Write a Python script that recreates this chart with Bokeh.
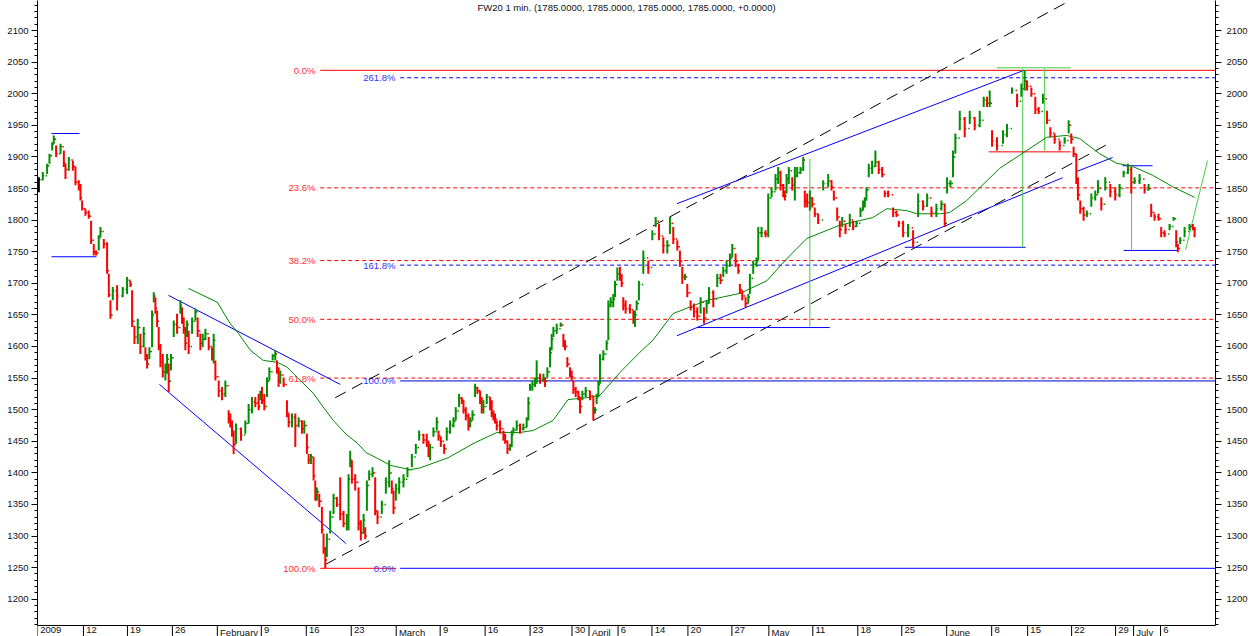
from bokeh.plotting import figure
from bokeh.models import (ColumnDataSource, Range1d, LinearAxis, SingleIntervalTicker, Label)
from bokeh.embed import file_html
from bokeh.resources import INLINE
from bokeh.core.properties import value

FONT = "Liberation Sans"

# ---------------- data (x in trading-day units from chart start) ----------------
bar_x = [
    0.15, 0.59, 1.07, 1.33, 1.63, 1.81, 2.07, 2.56, 2.93, 3.11,
    3.48, 3.93, 4.22, 4.59, 4.78, 4.96, 5.33, 5.70, 5.96, 6.26,
    6.52, 6.81, 7.00, 7.37, 7.74, 7.93, 8.11, 8.37, 8.85, 9.48,
    9.96, 10.33, 10.52, 10.78, 11.15, 11.44, 11.81, 12.00, 12.19, 12.44,
    12.74, 12.93, 13.11, 13.30, 13.48, 13.67, 13.93, 14.22, 14.41, 14.59,
    14.85, 15.15, 15.52, 15.89, 16.07, 16.26, 16.44, 16.63, 16.81, 17.19,
    17.56, 17.81, 18.11, 18.37, 18.67, 19.04, 19.41, 19.59, 19.78, 20.15,
    20.52, 20.89, 21.26, 21.44, 21.63, 21.81, 22.07, 22.63, 23.11, 23.48,
    23.85, 24.22, 24.59, 24.78, 24.96, 25.22, 25.52, 25.78, 26.15, 26.44,
    26.63, 26.81, 27.00, 27.37, 27.74, 27.93, 28.30, 28.67, 29.04, 29.41,
    29.67, 29.96, 30.15, 30.41, 30.70, 30.89, 31.07, 31.33, 31.63, 31.81,
    32.00, 32.18, 32.55, 32.92, 33.29, 33.66, 34.03, 34.40, 34.59, 34.77,
    34.96, 35.33, 35.70, 35.96, 36.26, 36.44, 36.63, 36.88, 37.26, 37.55,
    37.81, 38.29, 38.74, 39.11, 39.40, 39.59, 39.85, 40.22, 40.70, 41.14,
    41.63, 42.07, 42.44, 42.92, 43.29, 43.48, 43.66, 44.03, 44.40, 44.59,
    44.85, 45.22, 45.51, 45.88, 46.26, 46.51, 46.88, 47.18, 47.37, 47.63,
    47.92, 48.11, 48.37, 48.66, 48.92, 49.22, 49.40, 49.59, 49.96, 50.33,
    50.51, 50.70, 50.88, 51.07, 51.44, 51.81, 52.00, 52.26, 52.55, 52.74,
    52.92, 53.29, 53.66, 54.03, 54.40, 54.59, 54.77, 55.03, 55.33, 55.51,
    55.88, 56.26, 56.44, 56.70, 57.00, 57.18, 57.37, 57.74, 58.18, 58.48,
    58.66, 58.92, 59.22, 59.40, 59.59, 59.85, 60.14, 60.33, 60.59, 60.96,
    61.44, 61.81, 62.00, 62.18, 62.37, 62.55, 62.92, 63.29, 63.48, 63.74,
    64.03, 64.22, 64.48, 64.77, 64.96, 65.14, 65.40, 65.88, 66.26, 66.44,
    66.63, 66.88, 67.37, 67.92, 68.37, 68.74, 69.11, 69.59, 70.04, 70.33,
    70.70, 71.15, 71.44, 71.70, 72.00, 72.26, 72.63, 73.00, 73.37, 73.74,
    74.11, 74.41, 74.67, 75.15, 75.59, 75.96, 76.26, 76.63, 77.00, 77.26,
    77.63, 77.93, 78.11, 78.37, 78.74, 79.04, 79.22, 79.59, 79.96, 80.15,
    80.52, 80.96, 81.26, 81.63, 82.07, 82.37, 82.63, 82.93, 83.11, 83.30,
    83.55, 83.93, 84.22, 84.48, 84.85, 85.15, 85.33, 85.59, 85.89, 86.15,
    86.44, 86.81, 87.37, 87.93, 88.30, 88.56, 88.93, 89.22, 89.48, 89.85,
    90.33, 90.70, 91.07, 91.52, 91.81, 92.00, 92.18, 92.44, 92.81, 93.18,
    93.55, 93.93, 94.22, 94.59, 95.15, 95.52, 95.78, 96.26, 96.81, 97.37,
    97.93, 98.48, 98.93, 99.41, 99.96, 100.52, 100.89, 101.15, 101.52, 101.81,
    102.07, 102.56, 103.11, 103.67, 104.22, 104.78, 105.22, 105.59, 105.89, 106.15,
    106.70, 107.37, 107.81, 108.37, 108.93, 109.41, 109.78, 110.04, 110.52, 110.96,
    111.33, 111.81, 112.26, 112.63, 113.11, 113.67, 114.22, 114.67, 114.96, 115.22,
    115.52, 115.70, 115.96, 116.33, 116.70, 117.19, 117.63, 117.93, 118.30, 118.74,
    119.30, 119.85, 120.33, 120.78, 121.26, 121.63, 122.00, 122.56, 123.11, 123.56,
    123.85, 124.22, 124.67, 124.96, 125.33, 125.89, 126.33, 126.63, 126.81, 127.07,
    127.56, 128.11, 128.48, 128.67,
]
bar_high = [
    1868, 1876, 1889, 1905, 1923, 1934, 1918, 1921, 1910, 1889,
    1900, 1894, 1884, 1863, 1857, 1831, 1818, 1815, 1799, 1762,
    1752, 1776, 1789, 1770, 1765, 1715, 1673, 1694, 1697, 1694,
    1710, 1704, 1689, 1633, 1644, 1620, 1631, 1599, 1588, 1599,
    1657, 1686, 1678, 1657, 1631, 1604, 1588, 1573, 1588, 1573,
    1588, 1641, 1652, 1673, 1662, 1646, 1631, 1641, 1625, 1646,
    1660, 1646, 1620, 1620, 1628, 1615, 1599, 1620, 1578, 1546,
    1536, 1546, 1499, 1494, 1483, 1467, 1478, 1472, 1483, 1509,
    1520, 1520, 1525, 1530, 1536, 1525, 1551, 1567, 1588, 1594,
    1578, 1567, 1562, 1551, 1515, 1494, 1494, 1494, 1488, 1483,
    1483, 1462, 1430, 1430, 1425, 1388, 1377, 1367, 1346, 1304,
    1283, 1304, 1340, 1367, 1362, 1393, 1340, 1335, 1398, 1435,
    1420, 1398, 1377, 1325, 1335, 1314, 1388, 1404, 1409, 1393,
    1340, 1356, 1393, 1420, 1388, 1372, 1383, 1393, 1398, 1409,
    1430, 1446, 1467, 1462, 1462, 1451, 1446, 1472, 1488, 1467,
    1457, 1446, 1472, 1483, 1488, 1504, 1525, 1520, 1515, 1504,
    1494, 1488, 1499, 1541, 1536, 1530, 1520, 1515, 1525, 1520,
    1515, 1499, 1494, 1483, 1483, 1467, 1462, 1451, 1446, 1467,
    1472, 1483, 1478, 1478, 1488, 1520, 1541, 1546, 1551, 1578,
    1557, 1557, 1551, 1567, 1599, 1620, 1631, 1636, 1638, 1620,
    1610, 1583, 1567, 1562, 1546, 1536, 1530, 1520, 1530, 1536,
    1530, 1520, 1504, 1525, 1546, 1588, 1594, 1610, 1673, 1678,
    1683, 1704, 1725, 1726, 1715, 1678, 1673, 1667, 1657, 1657,
    1673, 1704, 1752, 1736, 1784, 1805, 1794, 1773, 1768, 1805,
    1789, 1768, 1752, 1726, 1715, 1699, 1673, 1668, 1662, 1678,
    1662, 1673, 1694, 1689, 1715, 1715, 1726, 1736, 1747, 1762,
    1747, 1731, 1699, 1689, 1678, 1683, 1715, 1736, 1741, 1789,
    1789, 1784, 1842, 1852, 1873, 1884, 1878, 1857, 1847, 1873,
    1884, 1868, 1884, 1884, 1884, 1900, 1847, 1842, 1847, 1836,
    1820, 1810, 1863, 1873, 1863, 1847, 1820, 1799, 1805, 1794,
    1810, 1799, 1799, 1820, 1831, 1836, 1852, 1889, 1894, 1910,
    1894, 1884, 1847, 1847, 1820, 1815, 1799, 1799, 1794, 1784,
    1842, 1831, 1842, 1821, 1826, 1831, 1826, 1868, 1863, 1910,
    1937, 1973, 1963, 1973, 1963, 1973, 1995, 1995, 2005, 1942,
    1931, 1942, 1952, 2010, 2000, 2016, 2037, 2021, 2010, 1995,
    1979, 2000, 1973, 1947, 1937, 1926, 1931, 1958, 1937, 1916,
    1905, 1868, 1831, 1821, 1815, 1842, 1847, 1863, 1836, 1868,
    1857, 1852, 1857, 1878, 1889, 1884, 1868, 1873, 1857, 1857,
    1826, 1810, 1810, 1789, 1784, 1794, 1805, 1784, 1762, 1773,
    1789, 1794, 1794, 1789,
]
bar_low = [
    1844, 1863, 1873, 1889, 1910, 1921, 1900, 1905, 1884, 1865,
    1878, 1878, 1855, 1847, 1831, 1815, 1807, 1802, 1762, 1744,
    1744, 1752, 1773, 1755, 1715, 1678, 1644, 1673, 1657, 1678,
    1683, 1694, 1631, 1604, 1604, 1588, 1599, 1578, 1565, 1580,
    1599, 1670, 1652, 1631, 1594, 1567, 1551, 1546, 1557, 1528,
    1562, 1615, 1620, 1652, 1636, 1620, 1594, 1615, 1588, 1620,
    1641, 1615, 1594, 1599, 1610, 1594, 1578, 1573, 1546, 1520,
    1515, 1520, 1478, 1472, 1457, 1430, 1446, 1451, 1462, 1478,
    1494, 1504, 1499, 1515, 1509, 1499, 1520, 1546, 1578, 1578,
    1557, 1536, 1541, 1536, 1488, 1472, 1472, 1441, 1472, 1462,
    1462, 1430, 1414, 1414, 1388, 1356, 1356, 1346, 1304, 1272,
    1249, 1267, 1304, 1335, 1346, 1325, 1314, 1309, 1309, 1409,
    1383, 1372, 1309, 1293, 1304, 1295, 1340, 1388, 1393, 1333,
    1319, 1335, 1367, 1377, 1367, 1335, 1356, 1367, 1377, 1393,
    1409, 1430, 1451, 1446, 1441, 1425, 1420, 1457, 1467, 1451,
    1441, 1430, 1451, 1462, 1472, 1483, 1504, 1509, 1494, 1483,
    1467, 1472, 1483, 1520, 1525, 1509, 1494, 1494, 1509, 1499,
    1488, 1483, 1478, 1467, 1462, 1451, 1446, 1430, 1435, 1441,
    1462, 1467, 1462, 1467, 1472, 1483, 1530, 1530, 1536, 1541,
    1541, 1544, 1536, 1551, 1567, 1594, 1615, 1620, 1631, 1599,
    1594, 1567, 1551, 1546, 1525, 1520, 1515, 1494, 1515, 1520,
    1515, 1483, 1494, 1509, 1520, 1541, 1578, 1594, 1610, 1662,
    1662, 1678, 1704, 1704, 1694, 1657, 1652, 1652, 1636, 1631,
    1657, 1673, 1715, 1715, 1768, 1789, 1768, 1747, 1747, 1778,
    1762, 1752, 1726, 1699, 1705, 1678, 1657, 1646, 1641, 1652,
    1636, 1652, 1668, 1662, 1694, 1699, 1710, 1715, 1726, 1741,
    1726, 1715, 1683, 1673, 1662, 1668, 1683, 1715, 1726, 1736,
    1773, 1773, 1773, 1836, 1847, 1857, 1847, 1836, 1831, 1842,
    1857, 1847, 1831, 1868, 1873, 1878, 1820, 1820, 1815, 1820,
    1805, 1794, 1847, 1852, 1847, 1831, 1799, 1773, 1789, 1778,
    1789, 1784, 1789, 1805, 1815, 1820, 1831, 1868, 1873, 1884,
    1873, 1868, 1836, 1836, 1805, 1805, 1789, 1773, 1773, 1757,
    1805, 1815, 1821, 1805, 1805, 1815, 1789, 1842, 1852, 1868,
    1905, 1942, 1931, 1952, 1942, 1947, 1979, 1979, 1979, 1916,
    1910, 1921, 1931, 2000, 1979, 1995, 2005, 2005, 1995, 1968,
    1968, 1984, 1952, 1931, 1921, 1910, 1921, 1937, 1921, 1900,
    1857, 1831, 1810, 1799, 1805, 1821, 1831, 1842, 1815, 1847,
    1836, 1831, 1836, 1868, 1873, 1842, 1857, 1857, 1842, 1847,
    1805, 1799, 1799, 1773, 1773, 1784, 1799, 1757, 1749, 1762,
    1773, 1784, 1784, 1773,
]
bar_close = [
    1864, 1870, 1886, 1902, 1920, 1928, 1905, 1916, 1890, 1880,
    1895, 1885, 1860, 1855, 1835, 1818, 1812, 1806, 1768, 1750,
    1748, 1772, 1782, 1762, 1720, 1682, 1650, 1688, 1680, 1690,
    1705, 1698, 1640, 1615, 1630, 1600, 1620, 1585, 1572, 1592,
    1650, 1680, 1660, 1640, 1600, 1575, 1560, 1565, 1580, 1545,
    1582, 1635, 1630, 1665, 1645, 1628, 1605, 1635, 1600, 1640,
    1655, 1625, 1605, 1612, 1620, 1600, 1585, 1610, 1552, 1530,
    1525, 1538, 1485, 1480, 1465, 1445, 1470, 1460, 1478, 1500,
    1512, 1510, 1505, 1525, 1515, 1505, 1545, 1560, 1585, 1588,
    1565, 1545, 1555, 1540, 1495, 1480, 1488, 1475, 1482, 1470,
    1475, 1440, 1420, 1425, 1395, 1365, 1370, 1355, 1310, 1280,
    1262, 1295, 1330, 1360, 1350, 1335, 1320, 1330, 1390, 1420,
    1390, 1385, 1320, 1305, 1325, 1300, 1380, 1398, 1400, 1340,
    1330, 1350, 1385, 1400, 1375, 1345, 1375, 1385, 1390, 1405,
    1425, 1440, 1460, 1452, 1448, 1435, 1440, 1465, 1480, 1458,
    1450, 1438, 1465, 1475, 1482, 1498, 1518, 1515, 1500, 1490,
    1475, 1482, 1492, 1535, 1530, 1515, 1500, 1505, 1520, 1510,
    1495, 1490, 1485, 1475, 1470, 1458, 1450, 1438, 1442, 1460,
    1468, 1475, 1470, 1472, 1485, 1510, 1535, 1540, 1545, 1550,
    1548, 1550, 1545, 1560, 1590, 1612, 1625, 1628, 1634, 1605,
    1600, 1572, 1558, 1552, 1532, 1528, 1520, 1505, 1525, 1530,
    1522, 1495, 1500, 1520, 1540, 1580, 1588, 1605, 1665, 1670,
    1675, 1698, 1715, 1710, 1700, 1665, 1660, 1658, 1645, 1650,
    1668, 1698, 1740, 1725, 1778, 1798, 1775, 1760, 1760, 1795,
    1770, 1758, 1735, 1710, 1710, 1685, 1662, 1655, 1648, 1670,
    1645, 1668, 1685, 1675, 1708, 1705, 1720, 1728, 1740, 1755,
    1735, 1720, 1690, 1680, 1668, 1678, 1708, 1730, 1735, 1780,
    1780, 1778, 1835, 1845, 1865, 1875, 1855, 1842, 1838, 1865,
    1878, 1855, 1870, 1875, 1880, 1895, 1830, 1828, 1835, 1825,
    1810, 1800, 1858, 1862, 1852, 1835, 1805, 1785, 1798, 1785,
    1800, 1790, 1795, 1815, 1825, 1832, 1848, 1882, 1885, 1892,
    1880, 1872, 1842, 1840, 1812, 1808, 1795, 1780, 1788, 1765,
    1830, 1822, 1835, 1812, 1818, 1825, 1795, 1858, 1858, 1900,
    1930, 1960, 1945, 1962, 1950, 1958, 1990, 1985, 1985, 1925,
    1918, 1935, 1945, 2005, 1988, 2008, 2020, 2012, 2000, 1975,
    1972, 1992, 1958, 1938, 1928, 1918, 1926, 1950, 1928, 1905,
    1865, 1840, 1818, 1808, 1810, 1835, 1840, 1850, 1825, 1860,
    1845, 1840, 1850, 1875, 1880, 1860, 1862, 1865, 1848, 1850,
    1812, 1805, 1802, 1780, 1778, 1790, 1802, 1765, 1755, 1768,
    1782, 1790, 1788, 1785,
]
first_open = 1850

# long moving average
ma_x = [16.78, 20.0, 21.44, 22.33, 23.67, 25.11, 26.67, 27.78, 28.89, 30.67,
        31.78, 32.89, 34.33, 35.56, 36.56, 37.67, 39.22, 41.44, 42.56, 45.67,
        48.67, 51.11, 53.67, 55.11, 57.33, 59.0, 61.11, 62.56, 64.78, 67.0,
        68.44, 70.67, 74.44, 78.11, 81.11, 83.33, 85.56, 89.22, 92.89, 94.44,
        96.67, 97.78, 100.33, 101.44, 103.33, 107.0, 110.0, 112.22, 114.44, 115.89,
        118.11, 120.0, 121.78, 124.0, 126.22, 128.67]
ma_v = [1692, 1670, 1636, 1621, 1594, 1578, 1575, 1567, 1551, 1526,
        1504, 1483, 1461, 1447, 1432, 1424, 1412, 1405, 1408, 1424,
        1448, 1464, 1464, 1467, 1483, 1516, 1519, 1523, 1559, 1591,
        1610, 1652, 1673, 1684, 1704, 1739, 1771, 1792, 1804, 1818,
        1815, 1810, 1810, 1812, 1831, 1882, 1910, 1931, 1934, 1929,
        1905, 1890, 1885, 1871, 1853, 1836]

# x-axis ticks (trading-day positions) and labels
tick_pos = [0.0, 5.11, 10.0, 15.0, 20.0, 24.89, 29.89, 34.89, 39.89, 44.78,
            49.78, 54.78, 59.44, 61.33, 64.56, 68.33, 72.33, 77.22, 81.33, 86.22,
            91.22, 96.11, 101.11, 106.11, 110.11, 115.0, 119.89, 121.89, 124.89]
tick_labels = ["2009", "12", "19", "26", "February", "9", "16", "23", "March", "9",
               "16", "23", "30", "April", "6", "14", "20", "27", "May", "11",
               "18", "25", "June", "8", "15", "22", "29", "July", "6"]

# Fibonacci retracement (red) and extension (blue)
fib_red_high = 2037
fib_red_low = 1249
fib_red_pct = [0.0, 23.6, 38.2, 50.0, 61.8, 100.0]
fib_blue_base = 1249
fib_blue_ref = 1545.5
fib_blue_pct = [0.0, 100.0, 161.8, 261.8]

# drawn trend lines: x0, y0, x1, y1
blue_x0 = [1.56, 1.56, 14.56, 13.56, 71.11, 71.11, 115.56, 73.33, 96.44, 120.78, 120.67]
blue_y0 = [1937, 1742, 1681, 1540, 1826, 1617, 1877, 1630, 1757, 1752, 1886]
blue_x1 = [4.67, 6.56, 33.67, 34.33, 109.7, 114.0, 119.56, 88.11, 109.89, 126.78, 124.0]
blue_y1 = [1937, 1742, 1540, 1288, 2037, 1867, 1899, 1630, 1757, 1752, 1886]

chan_x0 = [33.11, 32.0]
chan_y0 = [1519, 1255]
chan_x1 = [114.84, 119.0]
chan_y1 = [2147.5, 1920]

green_x0 = [85.89, 109.56, 112.0, 121.67, 106.67, 127.67]
green_y0 = [1897, 2040, 2040, 1883, 2041, 1753]
green_x1 = [85.89, 109.56, 112.0, 121.67, 114.89, 130.11]
green_y1 = [1632, 1757, 1910, 1752, 2041, 1894]

red_x0 = [105.78]
red_y0 = [1908]
red_x1 = [114.89]
red_y1 = [1908]

title_text = "FW20 1 min. (1785.0000, 1785.0000, 1785.0000, 1785.0000, +0.0000)"

# ---------------- figure geometry ----------------
FIG_W, FIG_H = 1250, 636
X_MIN, X_MAX = 0, 131
Y_MAX = 2147.5          # value at the top of the frame
AXIS_V = 1158.5         # value where the time axis sits
AXIS_PX = 625           # axis line, px below the top of the frame
PPV = AXIS_PX / (Y_MAX - AXIS_V)          # px per value unit
Y_MIN = Y_MAX - FIG_H / PPV

p = figure(width=FIG_W, height=FIG_H, output_backend="svg", toolbar_location=None,
           x_range=Range1d(X_MIN, X_MAX), y_range=Range1d(Y_MIN, Y_MAX),
           x_axis_type=None, y_axis_type=None,
           min_border_left=37, min_border_right=34, min_border_top=0, min_border_bottom=0)
p.outline_line_color = None
p.background_fill_color = "white"
p.border_fill_color = "white"
p.grid.visible = False


def style_y_axis(ax):
    ax.bounds = (AXIS_V, Y_MAX)
    ax.axis_line_color = "black"
    ax.major_tick_line_color = "black"
    ax.minor_tick_line_color = "black"
    ax.major_tick_out = 6
    ax.major_tick_in = 0
    ax.minor_tick_out = 3
    ax.minor_tick_in = 0
    ax.major_label_text_font = FONT
    ax.major_label_text_font_size = "9.5px"
    ax.major_label_text_color = "#111111"
    ax.major_label_standoff = 3


yl = LinearAxis(ticker=SingleIntervalTicker(interval=50, num_minor_ticks=5))
style_y_axis(yl)
p.add_layout(yl, "left")
yr = LinearAxis(ticker=SingleIntervalTicker(interval=50, num_minor_ticks=5))
style_y_axis(yr)
yr.major_label_standoff = 5
p.add_layout(yr, "right")

# time axis drawn in the frame (line, tall ticks, labels to the right of ticks)
p.segment(x0=[X_MIN], y0=[AXIS_V], x1=[X_MAX], y1=[AXIS_V], line_color="black", line_width=1)
p.segment(x0=tick_pos, y0=[AXIS_V] * len(tick_pos), x1=tick_pos,
          y1=[Y_MIN] * len(tick_pos), line_color="black", line_width=1)
p.text(x=[t + 0.3 for t in tick_pos], y=[AXIS_V - 1.0 / PPV] * len(tick_pos), text=tick_labels,
       text_font=value(FONT), text_font_size="9.5px", text_color="#111111",
       text_align="left", text_baseline="top")

# ---------------- Fibonacci levels ----------------
RED = "#ff0000"
BLUE = "#0000ff"
red_start, blue_start = 31.44, 40.33
red_levels = [fib_red_high - r / 100.0 * (fib_red_high - fib_red_low) for r in fib_red_pct]
for r, lv in zip(fib_red_pct, red_levels):
    solid = r in (0.0, 100.0)
    x_end = 39.9 if r == 100.0 else X_MAX
    p.line([red_start, x_end], [lv, lv], line_color=RED, line_width=1,
           line_dash="solid" if solid else "4 3")
p.text(x=[30.9] * len(red_levels), y=red_levels,
       text=["%.1f%%" % r for r in fib_red_pct],
       text_font=value(FONT), text_font_size="9.5px", text_color="#ff3030",
       text_align="right", text_baseline="middle")

blue_levels = [fib_blue_base + r / 100.0 * (fib_blue_ref - fib_blue_base) for r in fib_blue_pct]
for r, lv in zip(fib_blue_pct, blue_levels):
    solid = r in (0.0, 100.0)
    p.line([blue_start, X_MAX], [lv, lv], line_color=BLUE if r != 100.0 else "#0000cc",
           line_width=1, line_dash="solid" if solid else "4 3")
p.text(x=[39.8] * len(blue_levels), y=blue_levels,
       text=["%.1f%%" % r for r in fib_blue_pct],
       text_font=value(FONT), text_font_size="9.5px", text_color="#3030ff",
       text_align="right", text_baseline="middle")

# ---------------- trend lines ----------------
p.segment(x0=chan_x0, y0=chan_y0, x1=chan_x1, y1=chan_y1, line_color="black",
          line_width=1, line_dash="12 7")
p.segment(x0=blue_x0, y0=blue_y0, x1=blue_x1, y1=blue_y1, line_color=BLUE, line_width=1)
p.segment(x0=green_x0, y0=green_y0, x1=green_x1, y1=green_y1, line_color="#44cc44", line_width=1)
p.segment(x0=red_x0, y0=red_y0, x1=red_x1, y1=red_y1, line_color=RED, line_width=1)

# moving average
p.line(ma_x, ma_v, line_color="#008800", line_width=1)

# ---------------- OHLC bars ----------------
opens = [first_open] + bar_close[:-1]
colors = []
for i, (o, c) in enumerate(zip(opens, bar_close)):
    if i == 0:
        colors.append("black")
    else:
        colors.append("#008f00" if c >= o else "#ff0000")
TW = 0.16
src = ColumnDataSource(dict(
    x=bar_x, hi=bar_high, lo=bar_low, o=opens, c=bar_close, color=colors,
    xl=[x - TW for x in bar_x], xr=[x + TW for x in bar_x],
))
p.segment(x0="x", y0="lo", x1="x", y1="hi", source=src, line_color="color", line_width=2)
p.segment(x0="xl", y0="o", x1="x", y1="o", source=src, line_color="color", line_width=1.5)
p.segment(x0="x", y0="c", x1="xr", y1="c", source=src, line_color="color", line_width=1.5)

# title text inside the plot
p.add_layout(Label(x=(X_MIN + X_MAX) / 2.0, y=Y_MAX - 1.0 / PPV, text=title_text,
                   text_font=FONT, text_font_size="9.5px", text_color="#111111",
                   text_align="center", text_baseline="top"))

open("out.html", "w").write(file_html(p, INLINE))
